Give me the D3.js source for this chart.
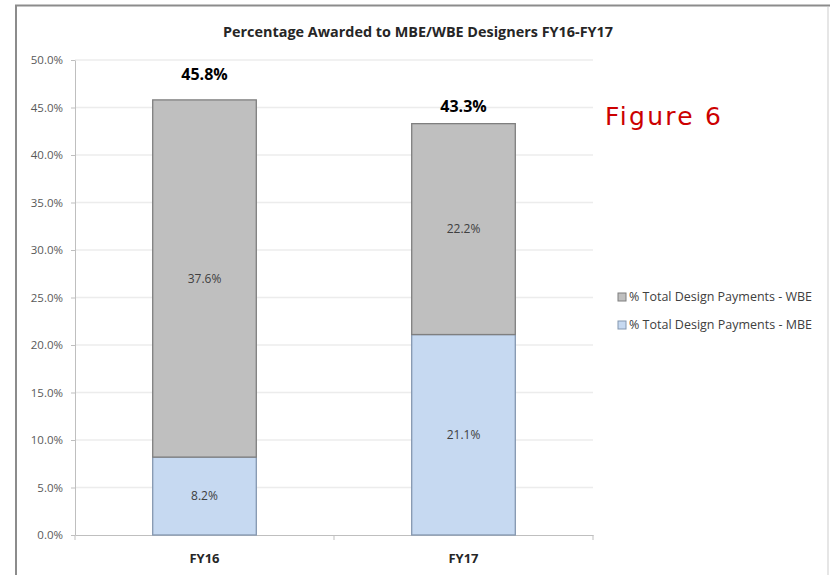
<!DOCTYPE html>
<html>
<head>
<meta charset="utf-8">
<script src="https://cdn.jsdelivr.net/npm/d3@7"></script>
<style>
  body { margin: 0; background: #fff; }
  svg { display: block; }
</style>
</head>
<body>
<div id="chart"></div>
<script>
// Data
const years = ["FY16", "FY17"];
const mbeValues = [8.2, 21.1];
const wbeValues = [37.6, 22.2];
const totalLabels = ["45.8%", "43.3%"];
const yTicks = [0, 5, 10, 15, 20, 25, 30, 35, 40, 45, 50];
const seriesNames = ["% Total Design Payments - WBE", "% Total Design Payments - MBE"];

const W = 830, H = 575;
const margin = { top: 60, left: 75, right: 237, bottom: 40 };
const width = W - margin.left - margin.right;   // 518
const height = H - margin.top - margin.bottom;  // 475

const svg = d3.select("#chart")
    .append("svg")
    .attr("width", W)
    .attr("height", H);

// Outer frame
svg.append("path")
    .attr("d", `M16,${H} V5.5 H${W}`)
    .attr("fill", "none")
    .attr("stroke", "#8c8c8c")
    .attr("stroke-width", 2);
svg.append("line")
    .attr("x1", 828).attr("x2", 828).attr("y1", 7).attr("y2", H)
    .attr("stroke", "#e6e6e6").attr("stroke-width", 2);

const g = svg.append("g")
    .attr("transform", `translate(${margin.left},${margin.top})`);

const x = d3.scaleBand()
    .domain(years)
    .range([0, width])
    .paddingInner(0.6)
    .paddingOuter(0.3);

const y = d3.scaleLinear()
    .domain([0, 50])
    .range([height, 0]);

// Grid lines
g.append("g")
    .selectAll("line")
    .data(yTicks.filter(d => d > 0))
    .enter()
    .append("line")
    .attr("x1", 0)
    .attr("x2", width)
    .attr("y1", d => y(d))
    .attr("y2", d => y(d))
    .attr("stroke", "#ececec")
    .attr("stroke-width", 1.5);

// Y axis
const yAxis = g.append("g")
    .call(d3.axisLeft(y).tickValues(yTicks).tickFormat(d => d.toFixed(1) + "%").tickSize(4).tickSizeOuter(0));
yAxis.select(".domain").attr("stroke", "#bfbfbf");
yAxis.selectAll(".tick line").attr("stroke", "#bfbfbf");
yAxis.selectAll("text")
    .attr("x", -12)
    .style("font-family", "Open Sans, sans-serif")
    .style("font-size", "11.5px")
    .attr("fill", "#595959");

// X axis
const xAxis = g.append("g")
    .attr("transform", `translate(0,${height})`)
    .call(d3.axisBottom(x).tickSize(0).tickSizeOuter(0));
xAxis.select(".domain").attr("stroke", "#bfbfbf");
xAxis.selectAll("text")
    .attr("dy", "1.9em")
    .style("font-family", "Open Sans, sans-serif")
    .style("font-size", "13px")
    .style("font-weight", "bold")
    .attr("fill", "#262626");
// Category separator ticks
g.append("g")
    .selectAll("line")
    .data([0, width / 2, width])
    .enter()
    .append("line")
    .attr("x1", d => d).attr("x2", d => d)
    .attr("y1", height).attr("y2", height + 5)
    .attr("stroke", "#bfbfbf");

// Stacked bars
const rows = years.map((yr, i) => ({ year: yr, MBE: mbeValues[i], WBE: wbeValues[i] }));
const stack = d3.stack().keys(["MBE", "WBE"])(rows);
const fills = { MBE: "#c6d9f1", WBE: "#bfbfbf" };
const strokes = { MBE: "#8497b0", WBE: "#7f7f7f" };

stack.forEach(layer => {
    const key = layer.key;
    const lg = g.append("g");
    lg.selectAll("rect")
        .data(layer)
        .enter()
        .append("rect")
        .attr("x", d => x(d.data.year))
        .attr("y", d => y(d[1]))
        .attr("width", x.bandwidth())
        .attr("height", d => y(d[0]) - y(d[1]))
        .attr("fill", fills[key])
        .attr("stroke", strokes[key])
        .attr("stroke-width", 1.3);
    lg.selectAll("text")
        .data(layer)
        .enter()
        .append("text")
        .attr("x", d => x(d.data.year) + x.bandwidth() / 2)
        .attr("y", d => y((d[0] + d[1]) / 2))
        .attr("dy", "0.35em")
        .attr("text-anchor", "middle")
        .style("font-family", "Open Sans, sans-serif")
        .style("font-size", "12px")
        .attr("fill", "#404040")
        .text(d => (d[1] - d[0]).toFixed(1) + "%");
});

// Totals above bars
g.selectAll(".total")
    .data(rows)
    .enter()
    .append("text")
    .attr("class", "total")
    .attr("x", d => x(d.year) + x.bandwidth() / 2)
    .attr("y", (d, i) => y(d.MBE + d.WBE) - (i === 0 ? 20 : 12))
    .attr("text-anchor", "middle")
    .style("font-family", "Open Sans, sans-serif")
    .style("font-size", "16px")
    .style("font-weight", "bold")
    .attr("fill", "#000")
    .text((d, i) => totalLabels[i]);

// Title
svg.append("text")
    .attr("x", 418)
    .attr("y", 37)
    .attr("text-anchor", "middle")
    .attr("textLength", 390)
    .attr("lengthAdjust", "spacingAndGlyphs")
    .style("font-family", "Open Sans, sans-serif")
    .style("font-size", "15px")
    .style("font-weight", "bold")
    .attr("fill", "#262626")
    .text("Percentage Awarded to MBE/WBE Designers FY16-FY17");

// Legend
const legend = svg.append("g")
    .attr("transform", "translate(618,297)");
seriesNames.forEach((name, i) => {
    const key = i === 0 ? "WBE" : "MBE";
    const row = legend.append("g").attr("transform", `translate(0,${i * 28})`);
    row.append("rect")
        .attr("x", 0).attr("y", -4)
        .attr("width", 8).attr("height", 8)
        .attr("fill", fills[key])
        .attr("stroke", strokes[key]);
    row.append("text")
        .attr("x", 11)
        .attr("dy", "0.35em")
        .attr("textLength", 183)
        .attr("lengthAdjust", "spacingAndGlyphs")
        .style("font-family", "Open Sans, sans-serif")
        .style("font-size", "12px")
        .attr("fill", "#404040")
        .text(name);
});

// Figure label
svg.append("text")
    .attr("x", 605)
    .attr("y", 125)
    .attr("textLength", 116)
    .attr("lengthAdjust", "spacing")
    .style("font-family", "DejaVu Sans, sans-serif")
    .style("font-size", "25px")
    .attr("fill", "#cc0000")
    .text("Figure 6");
</script>
</body>
</html>
